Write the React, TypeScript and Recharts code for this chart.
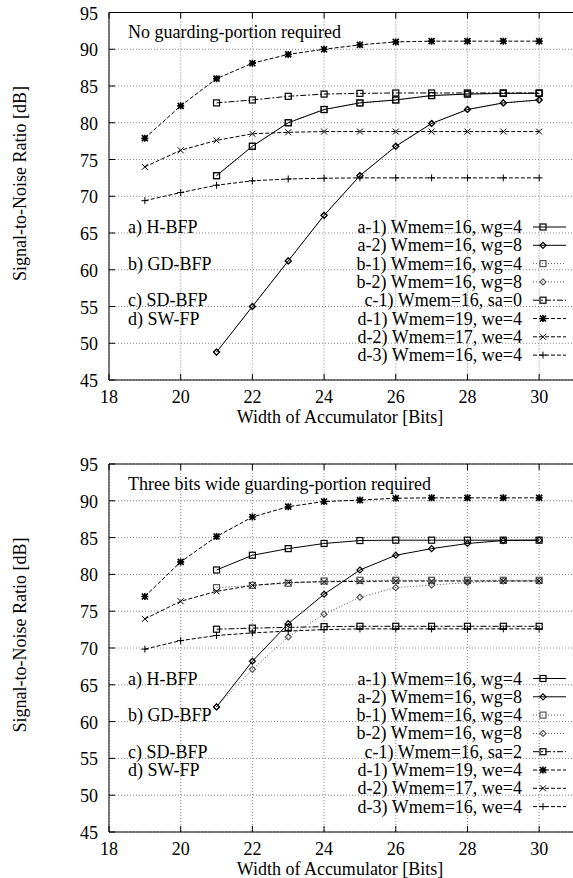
import React from "react";
import { LineChart, Line, XAxis, YAxis, CartesianGrid, ReferenceLine } from "recharts";

// accumulator width (bits) shared by every series
const bits = [19, 20, 21, 22, 23, 24, 25, 26, 27, 28, 29, 30];
const xTicks = [18, 20, 22, 24, 26, 28, 30];
const yTicks = [45, 50, 55, 60, 65, 70, 75, 80, 85, 90, 95];

// upper panel: no guarding-portion required
const topA1 = [null, null, 72.8, 76.8, 80.0, 81.8, 82.7, 83.1, 83.7, 83.9, 84.0, 84.0];
const topA2 = [null, null, 48.8, 55.0, 61.2, 67.4, 72.8, 76.8, 79.9, 81.8, 82.7, 83.1];
const topB1 = [null, null, 72.8, 76.8, 80.0, 81.8, 82.7, 83.1, 83.7, 83.9, 84.0, 84.0];
const topB2 = [null, null, 48.8, 55.0, 61.2, 67.4, 72.8, 76.8, 79.9, 81.8, 82.7, 83.1];
const topC1 = [null, null, 82.7, 83.1, 83.6, 83.9, 84.0, 84.05, 84.05, 84.05, 84.05, 84.05];
const topD1 = [77.9, 82.3, 86.0, 88.1, 89.3, 90.0, 90.6, 91.0, 91.1, 91.1, 91.1, 91.1];
const topD2 = [74.0, 76.25, 77.6, 78.5, 78.7, 78.8, 78.8, 78.8, 78.8, 78.8, 78.8, 78.8];
const topD3 = [69.4, 70.5, 71.5, 72.1, 72.35, 72.45, 72.5, 72.5, 72.5, 72.5, 72.5, 72.5];

// lower panel: three bits wide guarding-portion
const botA1 = [null, null, 80.6, 82.6, 83.5, 84.2, 84.6, 84.65, 84.65, 84.65, 84.65, 84.65];
const botA2 = [null, null, 62.0, 68.2, 73.3, 77.3, 80.6, 82.6, 83.5, 84.2, 84.6, 84.65];
const botB1 = [null, null, 78.2, 78.5, 78.8, 79.1, 79.2, 79.2, 79.2, 79.2, 79.2, 79.2];
const botB2 = [null, null, 62.0, 67.1, 71.5, 74.6, 76.9, 78.2, 78.55, 78.9, 79.1, 79.1];
const botC1 = [null, null, 72.55, 72.7, 72.8, 72.9, 72.95, 72.95, 72.95, 72.95, 72.95, 72.95];
const botD1 = [77.0, 81.7, 85.15, 87.8, 89.2, 89.9, 90.1, 90.35, 90.4, 90.4, 90.4, 90.4];
const botD2 = [73.95, 76.35, 77.7, 78.5, 78.9, 79.0, 79.05, 79.1, 79.1, 79.1, 79.1, 79.1];
const botD3 = [69.85, 71.0, 71.7, 72.05, 72.3, 72.5, 72.6, 72.6, 72.6, 72.6, 72.6, 72.6];

const seriesKeys = ["a1", "a2", "b1", "b2", "c1", "d1", "d2", "d3"];
const drawOrder = ["b1", "b2", "c1", "d3", "d2", "d1", "a1", "a2"];
const methodLabels = ["a) H-BFP", "b) GD-BFP", "c) SD-BFP", "d) SW-FP"];
const methodRows = [0, 2, 4, 5];

const FONT = '"Liberation Serif"';

type Shape = "square" | "diamond" | "star" | "cross" | "plus";
const styles: Record<string, { shape: Shape; dash?: string; color: string }> = {
  a1: { shape: "square", color: "#000" },
  a2: { shape: "diamond", color: "#000" },
  b1: { shape: "square", dash: "1 2", color: "#555" },
  b2: { shape: "diamond", dash: "1 2", color: "#555" },
  c1: { shape: "square", dash: "6 2 2 2", color: "#000" },
  d1: { shape: "star", dash: "4 2", color: "#000" },
  d2: { shape: "cross", dash: "4 2", color: "#000" },
  d3: { shape: "plus", dash: "4 2", color: "#000" },
};

const textStyle = { fontFamily: FONT, fontSize: 18 };

function Marker({ shape, cx, cy, color }: { shape: Shape; cx: number; cy: number; color: string }) {
  const s = 3;
  if (shape === "square")
    return <rect x={cx - s} y={cy - s} width={2 * s} height={2 * s} fill="none" stroke={color} strokeWidth={1.2} />;
  if (shape === "diamond")
    return (
      <polygon
        points={`${cx},${cy - s} ${cx + s},${cy} ${cx},${cy + s} ${cx - s},${cy}`}
        fill="none"
        stroke={color}
        strokeWidth={1.2}
      />
    );
  const plus = `M${cx - 3.5},${cy}H${cx + 3.5}M${cx},${cy - 3.5}V${cy + 3.5}`;
  const cross = `M${cx - 3},${cy - 3}L${cx + 3},${cy + 3}M${cx - 3},${cy + 3}L${cx + 3},${cy - 3}`;
  if (shape === "plus") return <path d={plus} stroke={color} strokeWidth={1} />;
  if (shape === "cross") return <path d={cross} stroke={color} strokeWidth={1} />;
  return <path d={plus + cross} stroke={color} strokeWidth={1.6} />;
}

function XTick(props: any) {
  const { x, y, payload, plotTop } = props;
  return (
    <g>
      <line x1={x} x2={x} y1={y} y2={y - 6} stroke="#000" />
      <line x1={x} x2={x} y1={plotTop} y2={plotTop + 6} stroke="#000" />
      <text x={x} y={y + 17} textAnchor="middle" dominantBaseline="central" style={textStyle} fill="#000">
        {payload.value}
      </text>
    </g>
  );
}

function YTick(props: any) {
  const { x, y, payload } = props;
  return (
    <g>
      <line x1={x} x2={x + 6} y1={y} y2={y} stroke="#000" />
      <text x={x - 11} y={y + 1} textAnchor="end" dominantBaseline="central" style={textStyle} fill="#000">
        {payload.value}
      </text>
    </g>
  );
}

interface PanelProps {
  top: number;
  height: number;
  plotTop: number;
  plotBottom: number;
  title: string;
  legend: string[];
  values: Record<string, (number | null)[]>;
}

function Panel({ top, height, plotTop, plotBottom, title, legend, values }: PanelProps) {
  const data = bits.map((b, i) => {
    const row: Record<string, number | null> = { bits: b };
    seriesKeys.forEach((k) => (row[k] = values[k][i]));
    return row;
  });
  const xAxisH = 40;
  const rowY0 = plotTop + 214.5;
  const rowStep = 18.3;

  return (
    <div style={{ position: "absolute", left: 0, top, width: 600, height }}>
      <LineChart
        width={600}
        height={height}
        data={data}
        margin={{ top: plotTop, right: 25, left: 0, bottom: height - plotBottom - xAxisH }}
      >
        <CartesianGrid stroke="#888" strokeDasharray="1 2" />
        <XAxis
          type="number"
          dataKey="bits"
          domain={[18, 31]}
          ticks={xTicks}
          interval={0}
          height={xAxisH}
          tickSize={0}
          tickMargin={0}
          axisLine={{ stroke: "#000" }}
          tick={<XTick plotTop={plotTop} />}
        />
        <YAxis
          type="number"
          domain={[45, 95]}
          ticks={yTicks}
          interval={0}
          width={109}
          tickSize={0}
          tickMargin={0}
          axisLine={{ stroke: "#000" }}
          tick={<YTick />}
        />
        <ReferenceLine y={95} stroke="#000" />
        {drawOrder.map((k) => {
          const st = styles[k];
          return (
            <Line
              key={k}
              type="linear"
              dataKey={k}
              stroke={st.color}
              strokeWidth={1}
              strokeDasharray={st.dash}
              isAnimationActive={false}
              activeDot={false}
              dot={(p: any) =>
                p.cx == null || p.cy == null || p.value == null ? (
                  <g key={`${k}-${p.index}`} />
                ) : (
                  <Marker key={`${k}-${p.index}`} shape={st.shape} cx={p.cx} cy={p.cy} color={st.color} />
                )
              }
            />
          );
        })}
      </LineChart>

      <svg
        width={573}
        height={height}
        style={{ position: "absolute", left: 0, top: 0, pointerEvents: "none", ...textStyle }}
      >
        <text
          transform={`translate(20, ${plotTop + 171}) rotate(-90)`}
          textAnchor="middle"
          dominantBaseline="central"
          fill="#000"
          style={textStyle}
        >
          Signal-to-Noise Ratio [dB]
        </text>
        <text
          x={340}
          y={plotBottom + 36.5}
          textAnchor="middle"
          dominantBaseline="central"
          fill="#000"
          style={textStyle}
        >
          Width of Accumulator [Bits]
        </text>
        <text x={128} y={plotTop + 19.5} dominantBaseline="central" fill="#000" style={textStyle}>
          {title}
        </text>
        {methodLabels.map((m, i) => (
          <text
            key={m}
            x={128}
            y={rowY0 + methodRows[i] * rowStep}
            dominantBaseline="central"
            fill="#000"
            style={textStyle}
          >
            {m}
          </text>
        ))}
        {seriesKeys.map((k, i) => {
          const st = styles[k];
          const y = rowY0 + i * rowStep;
          return (
            <g key={k}>
              <text x={522} y={y} textAnchor="end" dominantBaseline="central" fill="#000" style={textStyle}>
                {legend[i]}
              </text>
              <line x1={533} x2={566} y1={y} y2={y} stroke={st.color} strokeDasharray={st.dash} />
              <Marker shape={st.shape} cx={543} cy={y} color={st.color} />
            </g>
          );
        })}
      </svg>
    </div>
  );
}

const topLegend = [
  "a-1) Wmem=16, wg=4",
  "a-2) Wmem=16, wg=8",
  "b-1) Wmem=16, wg=4",
  "b-2) Wmem=16, wg=8",
  "c-1) Wmem=16, sa=0",
  "d-1) Wmem=19, we=4",
  "d-2) Wmem=17, we=4",
  "d-3) Wmem=16, we=4",
];
const botLegend = [
  "a-1) Wmem=16, wg=4",
  "a-2) Wmem=16, wg=8",
  "b-1) Wmem=16, wg=4",
  "b-2) Wmem=16, wg=8",
  "c-1) Wmem=16, sa=2",
  "d-1) Wmem=19, we=4",
  "d-2) Wmem=17, we=4",
  "d-3) Wmem=16, we=4",
];

export default function App() {
  return (
    <div
      style={{
        position: "fixed",
        left: 0,
        top: 0,
        width: 573,
        height: 878,
        overflow: "hidden",
        background: "#fff",
        fontFamily: FONT,
      }}
    >
      <Panel
        top={0}
        height={440}
        plotTop={12.5}
        plotBottom={380}
        title="No guarding-portion required"
        legend={topLegend}
        values={{ a1: topA1, a2: topA2, b1: topB1, b2: topB2, c1: topC1, d1: topD1, d2: topD2, d3: topD3 }}
      />
      <Panel
        top={440}
        height={438}
        plotTop={24}
        plotBottom={392}
        title="Three bits wide guarding-portion required"
        legend={botLegend}
        values={{ a1: botA1, a2: botA2, b1: botB1, b2: botB2, c1: botC1, d1: botD1, d2: botD2, d3: botD3 }}
      />
    </div>
  );
}
